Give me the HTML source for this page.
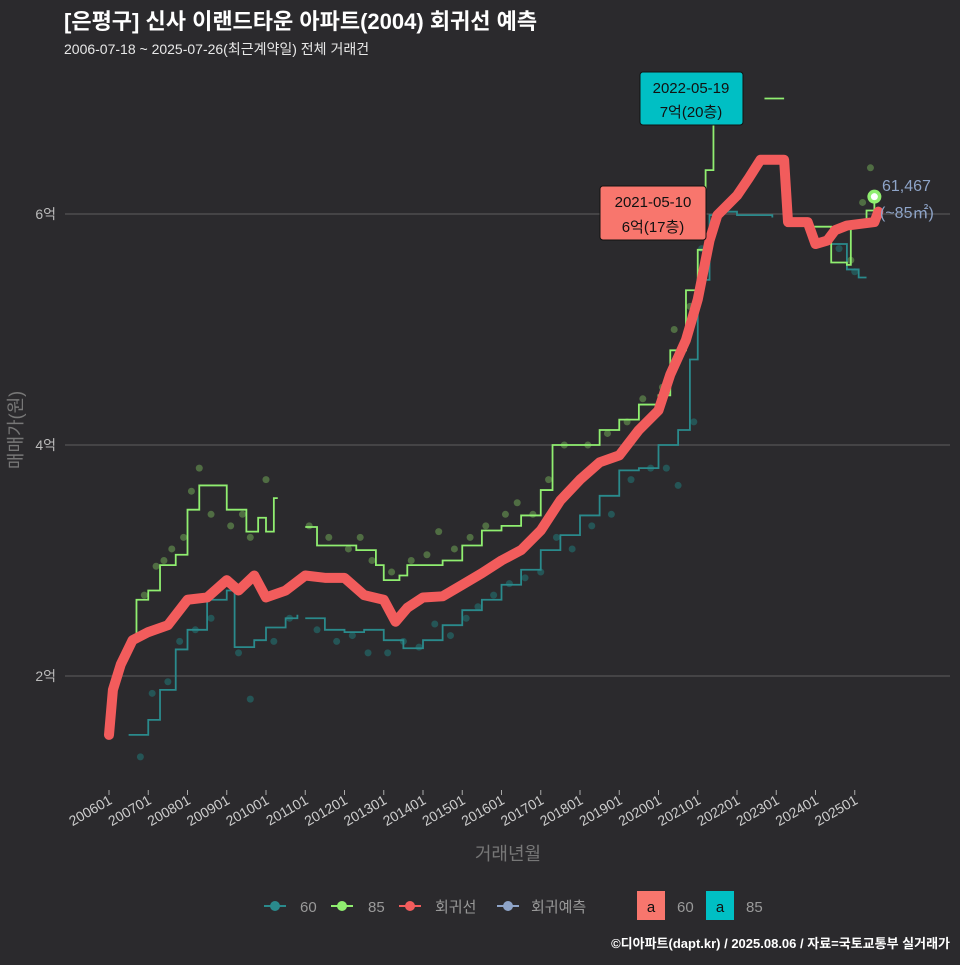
<!DOCTYPE html>
<html><head><meta charset="utf-8">
<style>
html,body{margin:0;padding:0;background:#2b2a2d;}
body{width:960px;height:960px;overflow:hidden;font-family:"Liberation Sans","Noto Sans CJK KR",sans-serif;}
svg text{font-family:"Liberation Sans","Noto Sans CJK KR",sans-serif;}
</style></head>
<body>
<svg id="chart" width="960" height="960" xmlns="http://www.w3.org/2000/svg">
<rect width="960" height="960" fill="#2b2a2d"/>
<text x="64" y="29" fill="#ffffff" font-size="22" font-weight="bold">[은평구] 신사 이랜드타운 아파트(2004) 회귀선 예측</text>
<text x="64" y="54" fill="#e8e8e8" font-size="14">2006-07-18 ~ 2025-07-26(최근계약일) 전체 거래건</text>
<g id="grid"></g>
<g id="dots"></g>
<g id="lines"></g>
<g id="axes"></g>
<text transform="translate(22,430) rotate(-90)" text-anchor="middle" fill="#777" font-size="18">매매가(원)</text>
<text x="508" y="860" text-anchor="middle" fill="#777" font-size="18">거래년월</text>
<g>
<rect x="640" y="72" width="103" height="53" rx="3" fill="#00bfc4" stroke="#111" stroke-width="1"/>
<text x="691" y="93" text-anchor="middle" font-size="15" fill="#111">2022-05-19</text>
<text x="691" y="117" text-anchor="middle" font-size="15" fill="#111">7억(20층)</text>
</g>
<g>
<rect x="600" y="186" width="106" height="54" rx="3" fill="#f8766d" stroke="#111" stroke-width="1"/>
<text x="653" y="207" text-anchor="middle" font-size="15" fill="#111">2021-05-10</text>
<text x="653" y="232" text-anchor="middle" font-size="15" fill="#111">6억(17층)</text>
</g>
<text x="882" y="191" fill="#8ea4c8" font-size="16">61,467</text>
<text x="880" y="218" fill="#8ea4c8" font-size="16">(~85㎡)</text>
<g font-size="15" fill="#999">
<g><line x1="264" y1="906" x2="286" y2="906" stroke="#2a8a8c" stroke-width="2"/><circle cx="275" cy="906" r="5" fill="#2a8a8c"/><text x="300" y="912">60</text></g>
<g><line x1="331" y1="906" x2="353" y2="906" stroke="#90ee70" stroke-width="2"/><circle cx="342" cy="906" r="5" fill="#90ee70"/><text x="368" y="912">85</text></g>
<g><line x1="399" y1="906" x2="421" y2="906" stroke="#f25c5c" stroke-width="2"/><circle cx="410" cy="906" r="5" fill="#f25c5c"/><text x="435" y="912">회귀선</text></g>
<g><line x1="497" y1="906" x2="519" y2="906" stroke="#8ea4c8" stroke-width="2"/><circle cx="508" cy="906" r="5" fill="#8ea4c8"/><text x="531" y="912">회귀예측</text></g>
<g><rect x="637" y="891" width="28" height="29" fill="#f8766d"/><text x="651" y="912" text-anchor="middle" fill="#111">a</text><text x="677" y="912">60</text></g>
<g><rect x="706" y="891" width="28" height="29" fill="#00bfc4"/><text x="720" y="912" text-anchor="middle" fill="#111">a</text><text x="746" y="912">85</text></g>
</g>
<text x="950" y="948" text-anchor="end" fill="#fff" font-size="13" font-weight="bold">©디아파트(dapt.kr) / 2025.08.06 / 자료=국토교통부 실거래가</text>
</svg>
<script>
const yTicks=[2,4,6];
const yTickLabels=["2억","4억","6억"];
const xYears=[2006,2007,2008,2009,2010,2011,2012,2013,2014,2015,2016,2017,2018,2019,2020,2021,2022,2023,2024,2025];
const regT=[2006.0,2006.1,2006.3,2006.6,2007.0,2007.5,2008.0,2008.5,2009.0,2009.3,2009.7,2010.0,2010.5,2011.0,2011.5,2012.0,2012.5,2013.0,2013.3,2013.6,2014.0,2014.5,2015.0,2015.5,2016.0,2016.5,2017.0,2017.5,2018.0,2018.5,2019.0,2019.5,2020.0,2020.3,2020.7,2021.0,2021.3,2021.5,2022.0,2022.3,2022.6,2023.2,2023.3,2023.8,2024.0,2024.3,2024.5,2024.8,2025.5,2025.6];
const regV=[1.49,1.88,2.10,2.31,2.38,2.44,2.66,2.68,2.83,2.74,2.87,2.68,2.74,2.87,2.85,2.85,2.70,2.66,2.47,2.59,2.68,2.69,2.79,2.89,3.00,3.09,3.26,3.52,3.70,3.85,3.91,4.13,4.30,4.61,4.91,5.26,5.77,5.99,6.16,6.31,6.47,6.47,5.93,5.93,5.74,5.77,5.86,5.90,5.93,6.02];
const s85T=[[2006.6,2006.7,2007.0,2007.3,2007.7,2008.0,2008.3,2008.8,2009.0,2009.5,2009.8,2010.0,2010.2,2010.3],[2011.0,2011.3,2011.8,2012.3,2012.8,2013.0,2013.4,2013.6,2014.5,2015.0,2015.5,2016.0,2016.5,2017.0,2017.3,2018.0,2018.5,2019.0,2019.5,2020.0,2020.3,2020.7,2021.0,2021.2,2021.4],[2022.7,2023.2],[2023.8,2024.3,2024.4,2024.8,2024.9,2025.3,2025.5]];
const s85V=[[2.35,2.66,2.74,2.96,3.05,3.44,3.65,3.65,3.44,3.25,3.37,3.25,3.54,3.54],[3.29,3.13,3.13,3.09,2.96,2.83,2.87,2.96,3.00,3.13,3.26,3.30,3.39,3.61,4.00,4.00,4.13,4.22,4.35,4.43,4.82,5.34,5.69,6.38,6.77],[7.0,7.0],[5.89,5.89,5.58,5.56,5.90,6.03,6.15]];
const s60T=[[2006.5,2007.0,2007.3,2007.7,2008.0,2008.5,2009.0,2009.2,2009.7,2010.0,2010.5,2010.8],[2011.0,2011.5,2012.0,2012.5,2013.0,2013.5,2014.0,2014.5,2015.0,2015.5,2016.0,2016.5,2017.0,2017.5,2018.0,2018.5,2019.0,2019.5,2020.0,2020.5,2020.8,2021.0,2021.3,2021.5,2022.0,2022.9],[2024.2,2024.8,2025.1,2025.3]];
const s60V=[[1.49,1.62,1.88,2.23,2.40,2.66,2.74,2.25,2.31,2.42,2.50,2.53],[2.50,2.40,2.38,2.40,2.31,2.24,2.31,2.44,2.57,2.66,2.79,2.92,3.09,3.22,3.39,3.56,3.78,3.80,4.00,4.13,4.74,5.43,5.99,6.02,5.99,5.97],[5.74,5.52,5.45,5.45]];
const dot85T=[2006.9,2007.2,2007.4,2007.6,2007.9,2008.1,2008.3,2008.6,2009.1,2009.4,2009.6,2010.0,2011.1,2011.6,2012.1,2012.4,2012.7,2013.2,2013.7,2014.1,2014.4,2014.8,2015.2,2015.6,2016.1,2016.4,2016.8,2017.2,2017.6,2018.2,2018.7,2019.2,2019.6,2020.1,2020.4,2020.8,2024.9,2025.2,2025.4];
const dot85V=[2.70,2.95,3.00,3.10,3.20,3.60,3.80,3.40,3.30,3.40,3.20,3.70,3.30,3.20,3.10,3.20,3.00,2.90,3.00,3.05,3.25,3.10,3.20,3.30,3.40,3.50,3.40,3.70,4.00,4.00,4.10,4.20,4.40,4.50,5.00,5.20,5.60,6.10,6.40];
const dot60T=[2006.8,2007.1,2007.5,2007.8,2008.2,2008.6,2009.3,2009.6,2010.2,2010.6,2011.3,2011.8,2012.2,2012.6,2013.1,2013.5,2013.9,2014.3,2014.7,2015.1,2015.4,2015.8,2016.2,2016.6,2017.0,2017.4,2017.8,2018.3,2018.8,2019.3,2019.8,2020.2,2020.5,2020.9,2021.1,2024.6,2025.0];
const dot60V=[1.30,1.85,1.95,2.30,2.40,2.50,2.20,1.80,2.30,2.50,2.40,2.30,2.35,2.20,2.20,2.30,2.25,2.45,2.35,2.50,2.60,2.70,2.80,2.85,2.90,3.20,3.10,3.30,3.40,3.70,3.80,3.80,3.65,4.20,5.70,5.70,5.50];
const lastT=2025.5, lastV=6.15;

const X=t=>109+(t-2006)*39.25;
const Y=v=>907-v*115.5;
const NS="http://www.w3.org/2000/svg";
function mk(tag,parent){const e=document.createElementNS(NS,tag);document.getElementById(parent).appendChild(e);return e;}

yTicks.forEach((v,i)=>{
  const l=mk('line','grid');
  
  
  l.setAttribute('x1',65);l.setAttribute('x2',950);l.setAttribute('y1',Y(v));l.setAttribute('y2',Y(v));
  l.setAttribute('stroke','#555');l.setAttribute('stroke-width',1.2);
  const t=mk('text','axes');
  
  
  t.setAttribute('x',56);t.setAttribute('y',Y(v)+5);t.setAttribute('text-anchor','end');
  t.setAttribute('fill','#bbb');t.setAttribute('font-size','14');t.textContent=yTickLabels[i];
});
xYears.forEach(yr=>{
  const l=mk('line','axes');
  
  
  l.setAttribute('x1',X(yr));l.setAttribute('x2',X(yr));l.setAttribute('y1',790);l.setAttribute('y2',795);
  l.setAttribute('stroke','#aaa');
  const t=mk('text','axes');
  
  
  t.setAttribute('transform','translate('+(X(yr)+4)+',803) rotate(-30)');
  t.setAttribute('text-anchor','end');t.setAttribute('fill','#ccc');t.setAttribute('font-size','14');
  t.textContent=yr+'01';
});
function dots(T,V,color,name){
  T.forEach((t,i)=>{
    const c=mk('circle','dots');
    
    
    c.setAttribute('cx',X(t));c.setAttribute('cy',Y(V[i]));c.setAttribute('r',3.5);
    c.setAttribute('fill',color);c.setAttribute('fill-opacity',0.45);
  });
}
dots(dot60T,dot60V,'#1f8a8a','dot-60');
dots(dot85T,dot85V,'#7fbf5f','dot-85');
function step(T,V){let d='';T.forEach((t,i)=>{if(i==0)d+='M'+X(t)+','+Y(V[i]);else d+='H'+X(t)+'V'+Y(V[i]);});return d;}
s60T.forEach((T,k)=>{
  const p=mk('path','lines');
  
  
  p.setAttribute('d',step(T,s60V[k]));p.setAttribute('fill','none');p.setAttribute('stroke','#2a8a8c');p.setAttribute('stroke-width',1.8);
});
s85T.forEach((T,k)=>{
  const p=mk('path','lines');
  
  
  p.setAttribute('d',step(T,s85V[k]));p.setAttribute('fill','none');p.setAttribute('stroke','#90ee70');p.setAttribute('stroke-width',1.8);
});
const r=mk('path','lines');


r.setAttribute('d',regT.map((t,i)=>(i?'L':'M')+X(t)+','+Y(regV[i])).join(''));
r.setAttribute('fill','none');r.setAttribute('stroke','#f25c5c');r.setAttribute('stroke-width',10);r.setAttribute('stroke-linejoin','round');r.setAttribute('stroke-linecap','round');
const e1=mk('circle','lines');


e1.setAttribute('cx',X(lastT));e1.setAttribute('cy',Y(lastV));e1.setAttribute('r',7);e1.setAttribute('fill','#90ee70');
const e2=mk('circle','lines');


e2.setAttribute('cx',X(lastT));e2.setAttribute('cy',Y(lastV));e2.setAttribute('r',3.5);e2.setAttribute('fill','#fff');
</script>
</body></html>
